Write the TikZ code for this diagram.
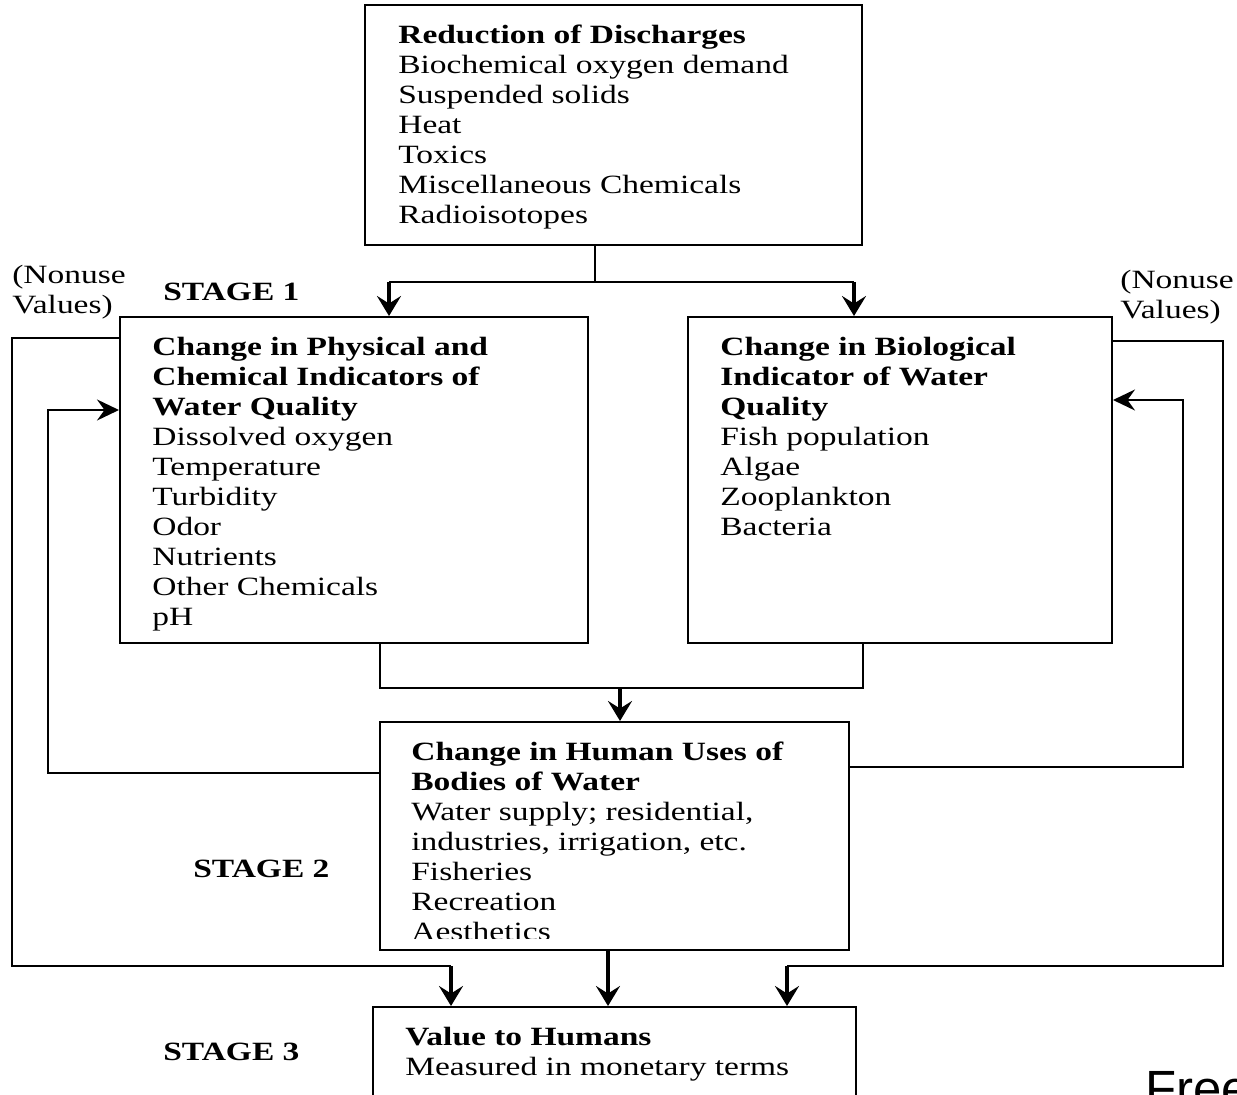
\documentclass[tikz,border=0pt]{standalone}
\usepackage{fontspec}
\setmainfont{Liberation Serif}[FakeStretch=1.27]
\newfontfamily\wmfont{Liberation Sans}
\usetikzlibrary{arrows.meta,fit}

\tikzset{
  box/.style={draw=black, line width=0.4mm, inner sep=0pt},
  txt/.style={anchor=north west, align=left},
  lbl/.style={anchor=base west},
  link/.style={draw=black, line width=0.4mm},
  fbarr/.style={link, -{Stealth[length=4.4mm,width=4.2mm,inset=1.5mm]}},
  arr/.style={link, line width=0.7mm, -{Stealth[length=4mm,width=4.8mm,inset=1.5mm]}}
}

\begin{document}
\begin{tikzpicture}[x=0.02cm,y=-0.02cm]
  \tikzstyle{every node}+=[inner sep=0pt, font=\fontsize{15pt}{17.07pt}\selectfont]
  \useasboundingbox (0,0) rectangle (1237,1095);
  \fill [white] (0,0) rectangle (1237,1095);

  \node [box, fit={(365,5) (862,245)}] (disch) {};
  \node [box, fit={(120,317) (588,643)}] (phys) {};
  \node [box, fit={(688,317) (1112,643)}] (bio) {};
  \node [box, fit={(380,722) (849,950)}] (uses) {};
  \node [box, fit={(373,1007) (856,1130)}] (value) {};

  \node [txt] (disch-txt) at (398,25) {\textbf{Reduction of Discharges}\\Biochemical oxygen demand\\Suspended solids\\Heat\\Toxics\\Miscellaneous Chemicals\\Radioisotopes};
  \node [txt] (phys-txt) at (152,337) {\textbf{Change in Physical and}\\\textbf{Chemical Indicators of}\\\textbf{Water Quality}\\Dissolved oxygen\\Temperature\\Turbidity\\Odor\\Nutrients\\Other Chemicals\\pH};
  \node [txt] (bio-txt) at (720,337) {\textbf{Change in Biological}\\\textbf{Indicator of Water}\\\textbf{Quality}\\Fish population\\Algae\\Zooplankton\\Bacteria};
  \begin{scope}
    \clip (380,722) rectangle (849,938);
    \node [txt] (uses-txt) at (411,742) {\textbf{Change in Human Uses of}\\\textbf{Bodies of Water}\\Water supply; residential,\\industries, irrigation, etc.\\Fisheries\\Recreation\\Aesthetics};
  \end{scope}
  \node [txt] (value-txt) at (405,1027) {\textbf{Value to Humans}\\Measured in monetary terms};

  \node [txt] (nonuse-l) at (12,265) {(Nonuse\\Values)};
  \node [txt] (nonuse-r) at (1120,270) {(Nonuse\\Values)};
  \node [lbl] (stage1) at (163,300) {\textbf{STAGE 1}};
  \node [lbl] (stage2) at (193,877) {\textbf{STAGE 2}};
  \node [lbl] (stage3) at (163,1060) {\textbf{STAGE 3}};
  \node [lbl, font=\wmfont\fontsize{29pt}{30pt}\selectfont] (free) at (1145,1106) {Free};

  \coordinate (split) at (595,282);
  \coordinate (split l) at (389,282);
  \coordinate (split r) at (854,282);
  \draw [link] (split |- disch.south) -- (split);
  \draw [link] (split l) -- (split r);
  \draw [arr] (split l) -- (split l |- phys.north);
  \draw [arr] (split r) -- (split r |- bio.north);

  \coordinate (merge l) at (380,688);
  \coordinate (merge r) at (863,688);
  \coordinate (merge) at (620,688);
  \draw [link] (merge l |- phys.south) -- (merge l) -- (merge r) -- (merge r |- bio.south);
  \draw [arr] (merge) -- (merge |- uses.north);

  \coordinate (fb l) at (48,773);
  \coordinate (fb l top) at (48,410);
  \draw [fbarr] (uses.west |- fb l) -- (fb l) -- (fb l top) -- (fb l top -| phys.west);
  \coordinate (fb r) at (1183,767);
  \coordinate (fb r top) at (1183,400);
  \draw [fbarr] (uses.east |- fb r) -- (fb r) -- (fb r top) -- (fb r top -| bio.east);

  \coordinate (out l top) at (12,338);
  \coordinate (out l) at (12,966);
  \coordinate (out l end) at (451,966);
  \draw [link] (phys.west |- out l top) -- (out l top) -- (out l) -- (out l end);
  \draw [arr] (out l end) -- (out l end |- value.north);
  \coordinate (out r top) at (1223,341);
  \coordinate (out r) at (1223,966);
  \coordinate (out r end) at (787,966);
  \draw [link] (bio.east |- out r top) -- (out r top) -- (out r) -- (out r end);
  \draw [arr] (out r end) -- (out r end |- value.north);

  \coordinate (mid) at (608,966);
  \draw [arr] (mid |- uses.south) -- (mid |- value.north);
\end{tikzpicture}
\end{document}
